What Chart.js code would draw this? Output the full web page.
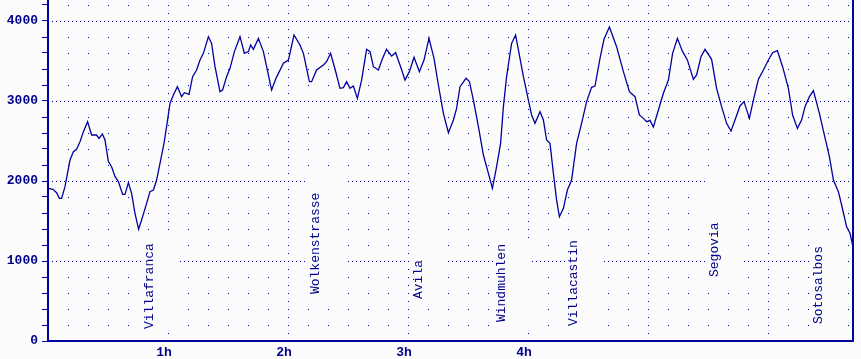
<!DOCTYPE html>
<html>
<head>
<meta charset="utf-8">
<script src="https://cdn.jsdelivr.net/npm/chart.js@4/dist/chart.umd.min.js"></script>
<style>
  html, body { margin: 0; padding: 0; background: #fcfcfc; }
  canvas { display: block; }
</style>
</head>
<body>
<canvas id="c" width="861" height="359"></canvas>
<script>
// ---- DATA ----
// elapsed time in minutes
const timeMin = [0, 2.5, 4.3, 5.7, 6.8, 8.5, 11, 12.7, 14.3, 16,
  17.7, 19.8, 21.8, 24.3, 25.5, 27.2, 28.5, 30.2, 31.8, 33.5,
  35.2, 37.3, 38.5, 40.2, 41.8, 43.5, 45.3, 46.8, 49.3, 51,
  52.7, 54.3, 56, 58, 59.3, 61, 62.7, 64.7, 66.8, 68.2,
  70.5, 72.3, 74.3, 76, 77.7, 80.2, 81.8, 83.5, 86, 87.3,
  89.3, 91, 93.2, 96, 98.2, 100.2, 101.3, 102.7, 105.2, 107.7,
  110.2, 111.8, 114, 117.7, 120.2, 123, 126, 127.7, 130.7, 131.8,
  134.3, 137.7, 139.3, 141.3, 143.5, 146, 147.7, 149.3, 151, 152.7,
  154.7, 156.8, 159.3, 161, 162.7, 165.2, 167.3, 169.3, 171.8, 173.8,
  176.3, 178.5, 180.7, 183, 185.7, 188, 190.5, 193, 195.2, 197.7,
  200.2, 202.7, 204.3, 206, 209, 210.7, 212.7, 215.2, 217.7, 220.2,
  222.2, 224.3, 226.3, 227.7, 229.3, 231.8, 233.8, 236, 237.7, 240.2,
  241.8, 243.5, 246, 247.7, 249.3, 251, 252.7, 254.3, 255.7, 257.7,
  259.7, 261.8, 264.3, 266.8, 269.3, 271.8, 273.5, 276, 278, 280.7,
  284.3, 287.7, 290.7, 293.5, 295.7, 297.7, 299.3, 301, 302.7, 305.2,
  307.7, 310.2, 312.3, 314.7, 317.3, 319.7, 322.7, 324.3, 326.5, 328.5,
  331.8, 334.3, 336.8, 339.3, 341.5, 343.5, 346, 348, 350.7, 352.7,
  355.2, 357.7, 360.2, 362.3, 364.7, 367.3, 370.2, 372.3, 374.7, 376.8,
  378.5, 380.7, 382.7, 385.7, 388, 390.7, 392.7, 395.2, 396.8, 399.3,
  401, 402.3];
// elevation in metres
const elevation = [1908, 1896, 1854, 1783, 1783, 1929, 2262, 2367, 2396, 2492,
  2617, 2742, 2575, 2575, 2533, 2587, 2512, 2242, 2179, 2054,
  1992, 1833, 1833, 1979, 1846, 1596, 1396, 1512, 1721, 1867,
  1887, 2012, 2221, 2471, 2679, 2971, 3075, 3179, 3054, 3104,
  3083, 3304, 3387, 3512, 3596, 3804, 3721, 3429, 3117, 3137,
  3304, 3408, 3617, 3804, 3596, 3617, 3700, 3646, 3783, 3617,
  3325, 3137, 3283, 3471, 3512, 3825, 3700, 3596, 3242, 3242,
  3387, 3450, 3492, 3596, 3400, 3158, 3167, 3242, 3158, 3187,
  3033, 3262, 3646, 3617, 3429, 3387, 3533, 3646, 3562, 3604,
  3429, 3262, 3367, 3546, 3367, 3512, 3783, 3533, 3200, 2846,
  2604, 2762, 2908, 3179, 3283, 3242, 3012, 2679, 2325, 2096,
  1908, 2179, 2471, 2929, 3304, 3721, 3825, 3533, 3304, 3012,
  2825, 2721, 2867, 2762, 2512, 2471, 2096, 1762, 1554, 1658,
  1887, 2012, 2471, 2721, 2992, 3171, 3187, 3533, 3771, 3925,
  3679, 3367, 3117, 3054, 2825, 2783, 2742, 2758, 2675, 2887,
  3096, 3262, 3596, 3783, 3617, 3512, 3271, 3325, 3554, 3646,
  3521, 3158, 2929, 2721, 2625, 2762, 2938, 2992, 2783, 3012,
  3271, 3387, 3512, 3604, 3629, 3429, 3158, 2825, 2658, 2762,
  2929, 3054, 3129, 2846, 2596, 2304, 2012, 1867, 1700, 1429,
  1346, 1200];

// axis ticks
const hourTicks = [60, 120, 180, 240];
const hourTickLabels = ['1h', '2h', '3h', '4h'];
const elevTickLabels = [0, 1000, 2000, 3000, 4000];

// place annotations: name, time (min), elevation at the foot of the text (m)
const placeNames = ['Villafranca', 'Wolkenstrasse', 'Avila', 'Windmuhlen', 'Villacastin', 'Segovia', 'Sotosalbos'];
const placeTimes = [50.8, 133.8, 185.2, 226.8, 262.8, 333.2, 385.2];
const placeElev  = [150, 587, 525, 237, 187, 800, 212];
const placeBoxTopElev = [null, 2150, 2150, null, null, 2150, null];

// ---- STYLE ----
const INK = '#0000a0';
const TEXT = '#00008c';
const BG = '#fcfcfc';
const X_MAX = 402.5;
const Y_MAX = 4262.5;
const MINOR_T = 10, MINOR_E = 200, HOUR = 60, MAJOR_E = 1000;

const points = timeMin.map((t, i) => ({ x: t, y: elevation[i] }));

const dotGrid = {
  id: 'dotGrid',
  beforeDatasetsDraw(chart) {
    const { ctx, chartArea: a, scales: { x, y } } = chart;
    ctx.save();
    ctx.fillStyle = INK;
    for (let t = MINOR_T; t < x.max; t += MINOR_T) {
      if (t % HOUR === 0) continue;
      const px = Math.round(x.getPixelForValue(t));
      for (let e = MINOR_E; e <= y.max; e += MINOR_E) {
        if (e % MAJOR_E === 0) continue;
        const py = Math.round(y.getPixelForValue(e));
        ctx.fillRect(px, py, 1, 1);
      }
    }
    for (let t = HOUR; t < x.max; t += HOUR) {
      const px = Math.round(x.getPixelForValue(t));
      for (let py = Math.round(a.bottom) - 8; py >= a.top; py -= 8) ctx.fillRect(px, py, 1, 1);
    }
    for (let e = MAJOR_E; e <= y.max; e += MAJOR_E) {
      const py = Math.round(y.getPixelForValue(e));
      for (let px = Math.round(a.left) + 4; px < a.right; px += 4) ctx.fillRect(px, py, 1, 1);
    }
    // right frame
    ctx.fillRect(Math.round(a.right) - 1, a.top, 2, a.bottom - a.top);
    ctx.restore();
  }
};

const placeLabels = {
  id: 'placeLabels',
  beforeDatasetsDraw(chart) {
    const { ctx, scales: { x, y } } = chart;
    ctx.save();
    ctx.font = '13px "Liberation Mono", "DejaVu Sans Mono", monospace';
    placeNames.forEach((name, i) => {
      const px = x.getPixelForValue(placeTimes[i]);
      const py = y.getPixelForValue(placeElev[i]);
      const w = ctx.measureText(name).width;
      let top = py - w - 6;
      if (placeBoxTopElev[i] !== null) top = Math.min(top, y.getPixelForValue(placeBoxTopElev[i]));
      ctx.fillStyle = BG;
      ctx.fillRect(Math.round(px) - 8, Math.round(top), 38, Math.round(py + 4 - top));
      ctx.save();
      ctx.translate(px, py);
      ctx.rotate(-Math.PI / 2);
      ctx.fillStyle = TEXT;
      ctx.textAlign = 'left';
      ctx.textBaseline = 'middle';
      ctx.fillText(name, 0, 0);
      ctx.restore();
    });
    ctx.restore();
  }
};

const tickFont = { family: '"Liberation Mono", "DejaVu Sans Mono", monospace', size: 13, weight: 'bold' };

new Chart(document.getElementById('c'), {
  type: 'line',
  data: {
    datasets: [{
      data: points,
      borderColor: INK,
      borderWidth: 1.3,
      pointRadius: 0,
      tension: 0,
      fill: false
    }]
  },
  options: {
    responsive: false,
    animation: false,
    devicePixelRatio: 1,
    layout: { padding: { left: 0, right: 8, top: 0, bottom: 0 } },
    plugins: { legend: { display: false }, tooltip: { enabled: false } },
    scales: {
      x: {
        type: 'linear',
        min: 0,
        max: X_MAX,
        afterBuildTicks: s => { s.ticks = hourTicks.map(v => ({ value: v })); },
        afterFit: s => { s.height = 18; s.paddingLeft = 0; s.paddingRight = 0; },
        ticks: {
          autoSkip: false,
          maxRotation: 0,
          padding: 4,
          labelOffset: -4,
          color: TEXT,
          font: tickFont,
          callback: v => hourTickLabels[hourTicks.indexOf(v)] || ''
        },
        grid: { display: true, drawOnChartArea: false, drawTicks: false },
        border: { display: true, color: INK, width: 2 }
      },
      y: {
        type: 'linear',
        min: 0,
        max: Y_MAX,
        afterBuildTicks: s => {
          const t = [];
          for (let e = 0; e <= 4200; e += MINOR_E) t.push({ value: e });
          s.ticks = t;
        },
        afterFit: s => { s.width = 48; s.paddingTop = 0; s.paddingBottom = 0; },
        ticks: {
          autoSkip: false,
          padding: 4,
          color: TEXT,
          font: tickFont,
          callback: v => elevTickLabels.includes(v) ? String(v) : ''
        },
        grid: { display: true, drawOnChartArea: false, drawTicks: true, tickLength: 6, tickColor: INK, tickWidth: 1 },
        border: { display: true, color: INK, width: 2 }
      }
    }
  },
  plugins: [dotGrid, placeLabels]
});
</script>
</body>
</html>
